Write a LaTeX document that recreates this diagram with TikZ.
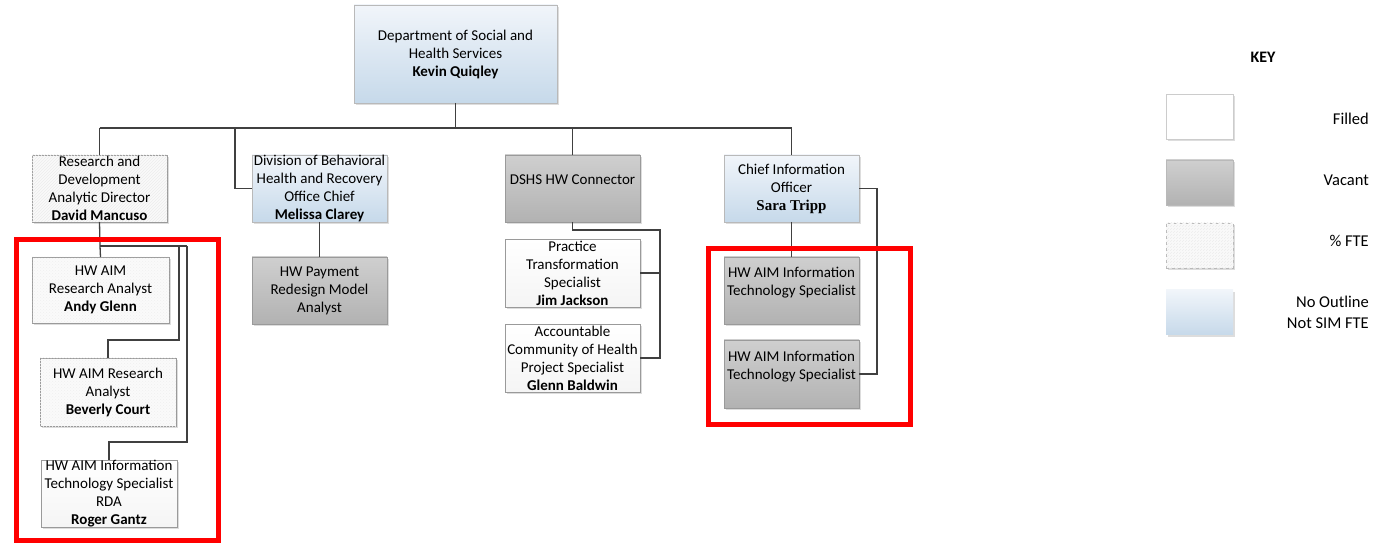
\documentclass[tikz,border=0pt]{standalone}
\usepackage{fontspec}
\setmainfont{Carlito}
\newfontfamily\tnr{Liberation Serif}
\usetikzlibrary{patterns,shadows}
\definecolor{lineC}{HTML}{404040}
\definecolor{boxB}{HTML}{9A9A9A}
\definecolor{blueT}{HTML}{F1F5FA}
\definecolor{blueB}{HTML}{C6D9EA}
\definecolor{vacT}{HTML}{CFCFCF}
\definecolor{vacB}{HTML}{B2B2B2}
\definecolor{keyRed}{HTML}{FF0000}
\tikzset{
  base/.style={inner sep=0pt, outer sep=0pt, align=center, font=\fontsize{15}{18}\selectfont,
    drop shadow={shadow xshift=2pt, shadow yshift=-2pt, fill=gray!45, opacity=0.6}},
  filledbox/.style={base, draw=boxB, line width=0.6pt, top color=white, bottom color=gray!8},
  vacantbox/.style={base, draw=boxB, line width=0.6pt, top color=vacT, bottom color=vacB},
  bluebox/.style={base, draw=gray!55, line width=0.6pt, top color=blueT, bottom color=blueB},
  ftebox/.style={base, draw=boxB, line width=0.6pt, fill=gray!4,
    postaction={pattern=north east lines, pattern color=gray!15}},
  dotbox/.style={base, draw=boxB, line width=0.6pt, fill=gray!4,
    postaction={pattern=crosshatch dots, pattern color=gray!12}},
  conn/.style={draw=lineC, line width=1.3pt},
  redframe/.style={draw=keyRed, line width=5pt},
  keylabel/.style={anchor=east, inner sep=0pt, align=right, font=\fontsize{16.5}{21}\selectfont},
}
\begin{document}
\begin{tikzpicture}[x=1pt,y=-1pt]
\useasboundingbox (0,0) rectangle (1393,545);
% boxes
\node[bluebox, minimum width=203, minimum height=98] (dept) at (455.5,54) {Department of Social and\\Health Services\\\textbf{Kevin Quiqley}};
\node[ftebox, minimum width=135, minimum height=67] (rd) at (99.5,188.5) {Research and\\Development\\Analytic Director\\\textbf{David Mancuso}};
\node[bluebox, minimum width=135, minimum height=67] (div) at (319.5,188.5) {Division of Behavioral\\Health and Recovery\\Office Chief\\\textbf{Melissa Clarey}};
\node[vacantbox, minimum width=135, minimum height=67] (hwc) at (572.5,188.5) {DSHS HW Connector\\\mbox{}};
\node[bluebox, minimum width=135, minimum height=67] (cio) at (791.5,188.5) {Chief Information\\Officer\\{\tnr\bfseries Sara Tripp}};
\node[vacantbox, minimum width=135, minimum height=67] (pay) at (319.5,290.5) {HW Payment\\Redesign Model\\Analyst};
\node[dotbox, minimum width=137, minimum height=66] (andy) at (100.5,290) {HW AIM\\Research Analyst\\\textbf{Andy Glenn}};
\node[dotbox, minimum width=136, minimum height=68] (bev) at (108,392) {HW AIM Research\\Analyst\\\textbf{Beverly Court}};
\node[filledbox, minimum width=136, minimum height=67] (rog) at (109,493.5) {HW AIM Information\\Technology Specialist\\RDA\\\textbf{Roger Gantz}};
\node[filledbox, minimum width=135, minimum height=68] (prac) at (572.5,273) {Practice\\Transformation\\Specialist\\\textbf{Jim Jackson}};
\node[filledbox, minimum width=135, minimum height=68] (acc) at (572.5,358) {Accountable\\Community of Health\\Project Specialist\\\textbf{Glenn Baldwin}};
\node[vacantbox, minimum width=135, minimum height=67] (it1) at (791.5,290.5) {HW AIM Information\\Technology Specialist\\\mbox{}};
\node[vacantbox, minimum width=135, minimum height=68] (it2) at (791.5,374) {HW AIM Information\\Technology Specialist\\\mbox{}};
% connectors
\coordinate (bus) at (0,128);
\coordinate (divj) at (235,128);
\draw[conn] (dept.south) -- (dept.south |- bus);
\draw[conn] (rd.north |- bus) -- (cio.north |- bus);
\draw[conn] (rd.north |- bus) -- (rd.north);
\draw[conn] (hwc.north |- bus) -- (hwc.north);
\draw[conn] (cio.north |- bus) -- (cio.north);
\draw[conn] (divj) |- (div.west);
\draw[conn] (div.south) -- (pay.north);
% research branch
\coordinate (rj) at (100,246);
\coordinate (rb1) at (179,246);
\coordinate (rb2) at (187,246);
\draw[conn] (rd.south) -- (rj) -- (andy.north);
\draw[conn] (rj) -- (rb2);
\draw[conn] (rb1) |- (108,340) -- (bev.north);
\draw[conn] (rb2) |- (109,442) -- (rog.north);
% connector branch
\coordinate (cj) at (660,230);
\draw[conn] (hwc.south) |- (cj) |- (acc.east);
\draw[conn] (cj |- prac.east) -- (prac.east);
% cio branch
\draw[conn] (cio.south) -- (it1.north);
\draw[conn] (cio.east) -| (877,374) -- (it2.east);
% red frames
\draw[redframe] (16,240) rectangle (218,540);
\draw[redframe] (708,249) rectangle (910,424);
% key
\node[font=\fontsize{16}{18}\selectfont\bfseries] (keyt) at (1263,57) {KEY};
\node[base, draw=gray!40, line width=0.5pt, fill=white, minimum width=67, minimum height=45] (k1) at (1199.5,116.5) {};
\node[base, draw=gray!55, line width=0.5pt, top color=vacT, bottom color=vacB, minimum width=67, minimum height=45] (k2) at (1199.5,182.5) {};
\node[base, draw=gray!55, dashed, line width=0.6pt, fill=gray!4, postaction={pattern=north east lines, pattern color=gray!15}, minimum width=67, minimum height=45] (k3) at (1199.5,245.5) {};
\node[base, top color=blueT, bottom color=blueB, minimum width=67, minimum height=45] (k4) at (1199.5,312.5) {};
\node[keylabel] (l1) at (1369,119) {Filled};
\node[keylabel] (l2) at (1369,180) {Vacant};
\node[keylabel] (l3) at (1369,241) {\% FTE};
\node[keylabel] (l4) at (1369,312) {No Outline\\Not SIM FTE};
\end{tikzpicture}
\end{document}
